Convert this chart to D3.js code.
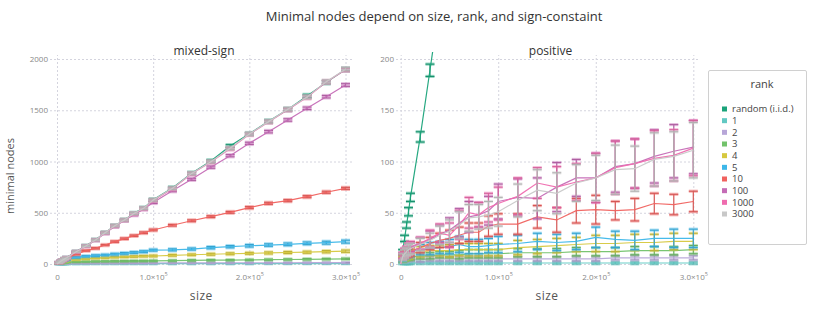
<!DOCTYPE html>
<html><head><meta charset="utf-8">
<script src="https://cdn.jsdelivr.net/npm/d3@7"></script>
<style>
body{margin:0;background:#fff}
svg{display:block}
text{font-family:"Open Sans","Liberation Sans",sans-serif}
</style>
</head><body>
<svg id="chart" width="830" height="311"></svg>
<script>
// ---------- data ----------
const sizes = [2000, 4000, 6000, 8000, 10000, 20000, 30000, 40000, 50000, 60000, 70000, 80000, 90000, 100000,
  120000, 140000, 160000, 180000, 200000, 220000, 240000, 260000, 280000, 300000];
const rankLabels = ["random (i.i.d.)", "1", "2", "3", "4", "5", "10", "100", "1000", "3000"];
const panelTitles = ["mixed-sign", "positive"];
const mixedTicksY = [0, 500, 1000, 1500, 2000];
const positiveTicksY = [0, 50, 100, 150, 200];
const ticksX = [0, 100000, 200000, 300000];

// mixed-sign means
const mixRandom = [14, 27, 40, 52, 63, 122, 178, 236, 306, 374, 430, 494, 545, 626, 742, 885, 1005, 1151, 1270, 1392, 1508, 1640, 1772, 1898];
const mixRank1 = [1, 1, 2, 2, 2, 2, 2, 3, 3, 3, 3, 3, 3, 3, 3, 3, 3, 3, 3, 4, 4, 4, 4, 4];
const mixRank2 = [4, 5, 6, 7, 7, 8, 8, 9, 9, 9, 10, 10, 10, 10, 11, 11, 11, 12, 12, 12, 12, 13, 13, 13];
const mixRank3 = [7, 11, 14, 16, 18, 21, 23, 25, 26, 27, 28, 29, 30, 31, 33, 35, 37, 38, 40, 42, 44, 46, 48, 50];
const mixRank4 = [10, 18, 25, 30, 34, 45, 52, 58, 62, 66, 70, 73, 76, 78, 85, 90, 95, 100, 104, 108, 112, 115, 120, 125];
const mixRank5 = [12, 22, 31, 38, 45, 65, 75, 82, 88, 96, 104, 112, 120, 135, 138, 146, 159, 169, 178, 185, 192, 202, 208, 218];
const mixRank10 = [13, 25, 36, 47, 57, 95, 130, 153, 185, 218, 247, 276, 305, 332, 378, 422, 462, 504, 550, 592, 618, 657, 700, 738];
const mixRank100 = [13, 26, 38, 50, 61, 119, 174, 232, 300, 365, 425, 480, 535, 600, 715, 826, 945, 1057, 1177, 1291, 1405, 1519, 1632, 1746];
const mixRank1000 = [13, 26, 38, 50, 61, 119, 175, 233, 303, 371, 427, 491, 541, 620, 735, 880, 995, 1125, 1265, 1386, 1505, 1626, 1776, 1895];
const mixRank3000 = [13, 26, 39, 51, 62, 120, 176, 234, 305, 373, 429, 493, 543, 624, 738, 884, 998, 1129, 1268, 1389, 1509, 1628, 1779, 1900];
// mixed-sign error half-widths
const mixRandomErr = [2, 3, 3, 4, 4, 5, 6, 7, 8, 9, 9, 10, 10, 11, 11, 12, 12, 13, 13, 14, 14, 15, 15, 16];
const mixRank1Err = [1, 1, 1, 1, 1, 1, 1, 1, 1, 1, 1, 1, 1, 1, 1, 1, 1, 1, 1, 1, 1, 1, 1, 1];
const mixRank2Err = [1, 1, 1, 1, 1, 2, 2, 2, 2, 2, 2, 2, 2, 2, 2, 2, 2, 2, 2, 2, 2, 2, 2, 2];
const mixRank3Err = [2, 2, 2, 2, 3, 3, 3, 3, 3, 4, 4, 4, 4, 4, 4, 5, 5, 5, 5, 5, 5, 6, 6, 6];
const mixRank4Err = [2, 3, 3, 4, 4, 5, 5, 6, 6, 6, 7, 7, 7, 8, 8, 8, 9, 9, 9, 10, 10, 10, 11, 11];
const mixRank5Err = [3, 3, 4, 4, 5, 6, 6, 7, 7, 8, 8, 8, 9, 9, 10, 10, 11, 11, 12, 12, 13, 13, 14, 14];
const mixRank10Err = [2, 3, 3, 3, 4, 5, 5, 6, 6, 7, 7, 7, 8, 8, 8, 9, 9, 9, 10, 10, 10, 10, 10, 10];
const mixRank100Err = [2, 3, 3, 3, 4, 5, 6, 6, 7, 8, 8, 9, 9, 10, 10, 10, 11, 11, 11, 12, 12, 12, 12, 13];
const mixRank1000Err = [2, 3, 3, 4, 4, 5, 6, 7, 8, 9, 9, 10, 10, 11, 11, 12, 12, 13, 13, 14, 14, 15, 15, 16];
const mixRank3000Err = [2, 3, 3, 4, 4, 5, 6, 7, 8, 9, 9, 10, 10, 11, 11, 12, 12, 13, 13, 14, 14, 15, 15, 16];

// positive means
const posRandom = [12, 25, 38, 51, 65, 124, 189, 255, null, null, null, null, null, null, null, null, null, null, null, null, null, null, null, null];
const posRank1 = [1, 1, 1, 1, 1, 1, 1, 1, 1, 1, 1, 1, 1, 1, 1, 1, 1, 1, 1, 1, 1, 1, 1, 1];
const posRank2 = [3, 3, 4, 4, 4, 4, 5, 5, 5, 5, 5, 5, 5, 5, 5, 5, 5, 5, 5, 6, 6, 6, 6, 6];
const posRank3 = [4, 5, 6, 7, 7, 8, 8, 9, 9, 9, 10, 10, 10, 10, 11, 11, 11, 12, 12, 12, 13, 13, 13, 14];
const posRank4 = [5, 7, 8, 9, 10, 12, 13, 13, 13, 14, 14, 14, 14, 14, 16, 17, 18, 19, 20, 20, 21, 21, 22, 22];
const posRank5 = [6, 8, 10, 11, 12, 14, 15, 16, 17, 19, 17, 17, 18, 19, 20, 22, 21, 22, 26, 24, 23, 25, 25, 25];
const posRank10 = [7, 9, 10, 11, 12, 16, 20, 23, 25, 28, 31, 31, 37, 39, 39, 46, 43, 52, 53, 52, 53, 59, 58, 61];
const posRank100 = [8, 11, 13, 15, 16, 20, 24, 29, 33, 40, 46, 48, 52, 61, 65, 64, 75, 84, 84, 95, 98, 105, 110, 114];
const posRank1000 = [8, 11, 13, 15, 17, 20, 25, 30, 28, 38, 50, 48, 55, 59, 66, 79, 75, 80, 84, 94, 98, 103, 106, 113];
const posRank3000 = [7, 10, 12, 14, 15, 19, 23, 28, 32, 38, 45, 46, 48, 51, 62, 72, 69, 79, 84, 92, 93, 102, 105, 111];
// positive error half-widths
const posRandomErr = [2, 3, 3, 4, 4, 5, 6, 7, null, null, null, null, null, null, null, null, null, null, null, null, null, null, null, null];
const posRank1Err = [1, 1, 1, 1, 1, 1, 1, 1, 1, 1, 1, 1, 1, 1, 1, 1, 1, 1, 1, 1, 1, 1, 1, 1];
const posRank2Err = [1, 1, 1, 1, 1, 2, 2, 2, 2, 2, 2, 2, 2, 2, 2, 2, 2, 2, 2, 2, 2, 2, 2, 2];
const posRank3Err = [2, 2, 2, 3, 3, 3, 3, 3, 3, 4, 4, 4, 4, 4, 4, 4, 4, 4, 4, 4, 4, 4, 4, 4];
const posRank4Err = [2, 3, 3, 4, 4, 5, 5, 5, 6, 6, 6, 6, 6, 6, 7, 7, 7, 7, 8, 8, 8, 8, 8, 8];
const posRank5Err = [3, 3, 4, 4, 5, 5, 6, 6, 7, 8, 7, 7, 7, 8, 8, 8, 8, 8, 10, 8, 9, 8, 9, 9];
const posRank10Err = [2, 3, 3, 4, 4, 5, 6, 7, 8, 8, 9, 9, 10, 10, 10, 11, 12, 12, 14, 9, 11, 10, 10, 10];
const posRank100Err = [3, 4, 4, 5, 5, 6, 8, 9, 12, 14, 15, 12, 14, 17, 18, 20, 24, 18, 24, 25, 24, 26, 26, 26];
const posRank1000Err = [3, 4, 4, 5, 5, 6, 8, 9, 12, 14, 15, 12, 14, 16, 18, 15, 20, 18, 24, 26, 24, 27, 25, 27];
const posRank3000Err = [3, 4, 4, 5, 5, 6, 7, 9, 11, 13, 13, 12, 13, 14, 16, 20, 20, 18, 22, 24, 22, 26, 24, 27];

// ---------- styles ----------
const rankColors = ["#1aa37a", "#62c9c3", "#b7a6d8", "#72c26b", "#d6c83f", "#3db7e9", "#f0625f", "#c56cb6", "#ef6caf", "#c8c8c8"];
const tickFont = "'Liberation Sans','Helvetica',sans-serif";

const panels = [
  { title: panelTitles[0], ymax: 2000, ticksY: mixedTicksY, left: 50, right: 352, x0: 57, x1: 345.5,
    means: [mixRandom, mixRank1, mixRank2, mixRank3, mixRank4, mixRank5, mixRank10, mixRank100, mixRank1000, mixRank3000],
    errs: [mixRandomErr, mixRank1Err, mixRank2Err, mixRank3Err, mixRank4Err, mixRank5Err, mixRank10Err, mixRank100Err, mixRank1000Err, mixRank3000Err] },
  { title: panelTitles[1], ymax: 200, ticksY: positiveTicksY, left: 396, right: 699, x0: 400.7, x1: 693.3,
    means: [posRandom, posRank1, posRank2, posRank3, posRank4, posRank5, posRank10, posRank100, posRank1000, posRank3000],
    errs: [posRandomErr, posRank1Err, posRank2Err, posRank3Err, posRank4Err, posRank5Err, posRank10Err, posRank100Err, posRank1000Err, posRank3000Err] }
];

const svg = d3.select("#chart");
const Y0 = 264, YTOP = 59, PLOT_TOP = 52, PLOT_BOTTOM = 272;

svg.append("text").attr("x", 434).attr("y", 21).attr("text-anchor", "middle")
  .attr("font-size", 13).attr("fill", "#333").text("Minimal nodes depend on size, rank, and sign-constaint");

svg.append("text").attr("transform", "translate(14,176) rotate(-90)").attr("text-anchor", "middle")
  .attr("font-size", 11).attr("fill", "#555").text("minimal nodes");

panels.forEach((p, pi) => {
  const x = d3.scaleLinear().domain([0, 300000]).range([p.x0, p.x1]);
  const y = d3.scaleLinear().domain([0, p.ymax]).range([Y0, YTOP]);
  const g = svg.append("g");

  // horizontal grid + y labels
  const ay = g.append("g").attr("transform", `translate(${p.left},0)`)
    .call(d3.axisLeft(y).tickValues(p.ticksY).tickFormat(d3.format("d"))
      .tickSizeInner(-(p.right - p.left)).tickSizeOuter(0).tickPadding(2));
  ay.select(".domain").remove();
  ay.selectAll("line").attr("stroke", "#d4d4de").attr("stroke-dasharray", "2,2");
  ay.selectAll("text").attr("font-size", 8).attr("fill", "#888").attr("font-family", tickFont);

  // vertical grid + x labels
  const ax = g.append("g").attr("transform", `translate(0,${Y0})`)
    .call(d3.axisBottom(x).tickValues(ticksX).tickSizeInner(-(Y0 - 55)).tickSizeOuter(0).tickPadding(10)
      .tickFormat(d => d === 0 ? "0" : (d / 1e5).toFixed(1) + "×10"));
  ax.select(".domain").remove();
  ax.selectAll("line").attr("stroke", "#d4d4de").attr("stroke-dasharray", "2,2");
  ax.selectAll("text").attr("font-size", 8).attr("fill", "#888").attr("font-family", tickFont)
    .each(function (d) {
      if (d !== 0) d3.select(this).append("tspan").attr("font-size", 5.5).attr("dy", "-0.6em").text("5");
    });

  g.append("text").attr("x", (p.left + p.right) / 2 + 3).attr("y", 55).attr("text-anchor", "middle")
    .attr("font-size", 12).attr("fill", "#333").text(p.title);
  g.append("text").attr("x", (p.x0 + p.x1) / 2).attr("y", 300).attr("text-anchor", "middle")
    .attr("font-size", 12).attr("fill", "#555").attr("letter-spacing", 0.5).text("size");

  const clipId = "clip" + pi;
  svg.append("clipPath").attr("id", clipId).append("rect")
    .attr("x", p.left).attr("y", PLOT_TOP).attr("width", p.right - p.left).attr("height", PLOT_BOTTOM - PLOT_TOP);
  const plot = g.append("g").attr("clip-path", `url(#${clipId})`);

  const line = d3.line().defined(d => d.v != null).x(d => x(d.s)).y(d => y(d.v));

  p.means.forEach((vals, si) => {
    const col = rankColors[si];
    const dark = d3.color(col).darker(0.35).formatHex();
    const pts = sizes.map((s, i) => ({ s, v: vals[i], e: p.errs[si][i] }));
    const sg = plot.append("g");
    const eb = sg.selectAll("g.eb").data(pts.filter(d => d.v != null)).join("g");
    eb.append("line").attr("x1", d => x(d.s)).attr("x2", d => x(d.s))
      .attr("y1", d => y(d.v - d.e)).attr("y2", d => y(d.v + d.e))
      .attr("stroke", dark).attr("stroke-width", 1.2);
    [-1, 1].forEach(sgn => {
      eb.append("line").attr("x1", d => x(d.s) - 4.5).attr("x2", d => x(d.s) + 4.5)
        .attr("y1", d => y(d.v + sgn * d.e)).attr("y2", d => y(d.v + sgn * d.e))
        .attr("stroke", col).attr("stroke-opacity", 0.45).attr("stroke-width", 3.2);
      eb.append("line").attr("x1", d => x(d.s) - 4.5).attr("x2", d => x(d.s) + 4.5)
        .attr("y1", d => y(d.v + sgn * d.e)).attr("y2", d => y(d.v + sgn * d.e))
        .attr("stroke", dark).attr("stroke-width", 1.1);
    });
    sg.append("path").datum([{ s: 0, v: 0 }].concat(pts)).attr("d", line)
      .attr("fill", "none").attr("stroke", col).attr("stroke-width", 1.2).attr("stroke-opacity", 0.95);
  });
});

// legend
const lg = svg.append("g");
lg.append("rect").attr("x", 708.5).attr("y", 70.5).attr("width", 98).attr("height", 174)
  .attr("fill", "#fff").attr("stroke", "#d0d0d0").attr("rx", 1.5);
lg.append("text").attr("x", 762).attr("y", 88).attr("text-anchor", "middle")
  .attr("font-size", 11).attr("fill", "#444").text("rank");
const ly = d3.scalePoint().domain(rankLabels).range([109, 214]);
rankLabels.forEach((r, i) => {
  lg.append("rect").attr("x", 722).attr("y", ly(r) - 2.5).attr("width", 5).attr("height", 5).attr("fill", rankColors[i]);
  lg.append("text").attr("x", 732).attr("y", ly(r) + 3.3).attr("font-size", 9.5).attr("font-family", tickFont)
    .attr("fill", "#444").text(r);
});
</script>
</body></html>
